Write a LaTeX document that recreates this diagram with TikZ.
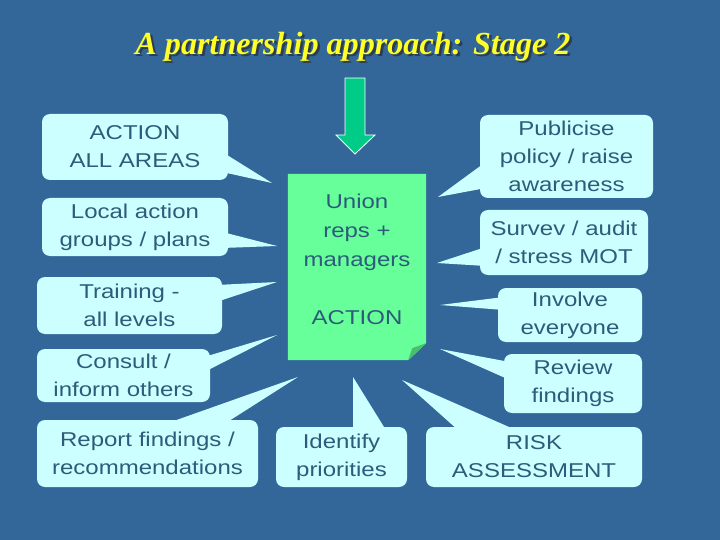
\documentclass[tikz,border=0pt]{standalone}
\usepackage{fontspec}
\setsansfont{Liberation Sans}[FakeStretch=1.2]
\newfontfamily\titlefamily{Liberation Serif}
\usetikzlibrary{calc}
\definecolor{bgblue}{RGB}{51,102,153}
\definecolor{callfill}{RGB}{204,255,255}
\definecolor{txt}{RGB}{45,92,122}
\definecolor{hubfill}{RGB}{102,255,153}
\definecolor{folddark}{RGB}{72,190,110}
\definecolor{arrowfill}{RGB}{0,204,136}
\definecolor{titleyellow}{RGB}{255,255,40}
\definecolor{titleshadow}{RGB}{45,60,80}
\tikzset{
  call/.style={fill=callfill, rounded corners=8pt, inner sep=0pt, align=center,
    text=txt, font=\sffamily\fontsize{20}{28}\selectfont},
  wedge/.style={fill=callfill},
  hubtext/.style={inner sep=0pt, align=center, text=txt,
    font=\sffamily\fontsize{20}{29}\selectfont},
  titlefont/.style={inner sep=0pt, font=\titlefamily\bfseries\itshape}
}
\newcommand{\titletext}{\resizebox{435pt}{!}{A partnership approach: Stage 2}}
\begin{document}
\begin{tikzpicture}[x=1pt,y=-1pt]
\useasboundingbox (0,0) rectangle (720,540);
\fill[bgblue] (0,0) rectangle (720,540);

% title
\node[titlefont, text=titleshadow, anchor=base] (titleshadow) at (355.5,57) {\titletext};
\node[titlefont, text=titleyellow, anchor=base] (title) at (353,55) {\titletext};

% arrow
\draw[fill=arrowfill, draw=white, line width=0.8pt]
  (345,78) -- (365,78) -- (365,135) -- (375,135) -- (355,154) -- (336,135) -- (345,135) -- cycle;

% hub
\path (357,267) node[minimum width=138pt, minimum height=186pt, inner sep=0pt] (hub) {};
\fill[hubfill] (hub.north west) -- (hub.north east) -- ($(hub.south east)+(0,-17)$)
  -- ($(hub.south east)+(-18,0)$) -- (hub.south west) -- cycle;
\fill[folddark] ($(hub.south east)+(0,-17)$) -- ($(hub.south east)+(-18,0)$)
  -- ($(hub.south east)+(-14,-12)$) -- cycle;
\node[hubtext] (hubtxt) at (357,259) {Union\\reps +\\managers\\[29pt]ACTION};

% callouts
\node[call, minimum width=186pt, minimum height=66pt] (c1) at (135,147) {ACTION\\ALL AREAS};
\node[call, minimum width=186pt, minimum height=58pt] (c2) at (135,227) {Local action\\groups / plans};
\node[call, minimum width=185pt, minimum height=57pt] (c3) at (129.5,305.5) {Training -\\all levels};
\node[call, minimum width=173pt, minimum height=53pt] (c4) at (123.5,375.5) {Consult /\\inform others};
\node[call, minimum width=221pt, minimum height=67pt] (c5) at (147.5,453.5) {Report findings /\\recommendations};
\node[call, minimum width=131pt, minimum height=60pt] (c6) at (341.5,457) {Identify\\priorities};
\node[call, minimum width=216pt, minimum height=60pt] (c7) at (534,457) {RISK\\ASSESSMENT};
\node[call, minimum width=138pt, minimum height=59pt] (c8) at (573,383.5) {Review\\findings};
\node[call, minimum width=144pt, minimum height=54pt] (c9) at (570,315) {Involve\\everyone};
\node[call, minimum width=168pt, minimum height=65pt] (c10) at (564,242.5) {Survev / audit\\/ stress MOT};
\node[call, minimum width=173pt, minimum height=83pt] (c11) at (566.5,156.5) {Publicise\\policy / raise\\awareness};

% pointer tips
\coordinate (t1) at (272,183);
\coordinate (t2) at (277,246);
\coordinate (t3) at (277,282);
\coordinate (t4) at (277,335);
\coordinate (t5) at (298,377);
\coordinate (t6) at (353,377);
\coordinate (t7) at (402,380);
\coordinate (t8) at (440,349);
\coordinate (t9) at (440,305);
\coordinate (t10) at (437,263);
\coordinate (t11) at (438,197);

% pointers
\fill[wedge] ($(c1.east)+(-6,5)$) -- (t1) -- ($(c1.east)+(-6,25)$) -- cycle;
\fill[wedge] ($(c2.east)+(-6,5)$) -- (t2) -- ($(c2.east)+(-6,21)$) -- cycle;
\fill[wedge] ($(c3.east)+(-6,-20.5)$) -- (t3) -- ($(c3.east)+(-6,-3.5)$) -- cycle;
\fill[wedge] ($(c4.east)+(-6,-18.5)$) -- (t4) -- ($(c4.east)+(-6,-3.5)$) -- cycle;
\fill[wedge] ($(c5.north)+(15.5,5)$) -- (t5) -- ($(c5.north)+(75.5,5)$) -- cycle;
\fill[wedge] ($(c6.north)+(11.5,5)$) -- (t6) -- ($(c6.north)+(45.5,5)$) -- cycle;
\fill[wedge] ($(c7.north)+(-74,5)$) -- (t7) -- ($(c7.north)+(-14,5)$) -- cycle;
\fill[wedge] ($(c8.west)+(6,-21.5)$) -- (t8) -- ($(c8.west)+(6,-3.5)$) -- cycle;
\fill[wedge] ($(c9.west)+(6,-18)$) -- (t9) -- ($(c9.west)+(6,-5)$) -- cycle;
\fill[wedge] ($(c10.west)+(6,4.5)$) -- (t10) -- ($(c10.west)+(6,23.5)$) -- cycle;
\fill[wedge] ($(c11.west)+(6,5.5)$) -- (t11) -- ($(c11.west)+(6,31.5)$) -- cycle;
\end{tikzpicture}
\end{document}
